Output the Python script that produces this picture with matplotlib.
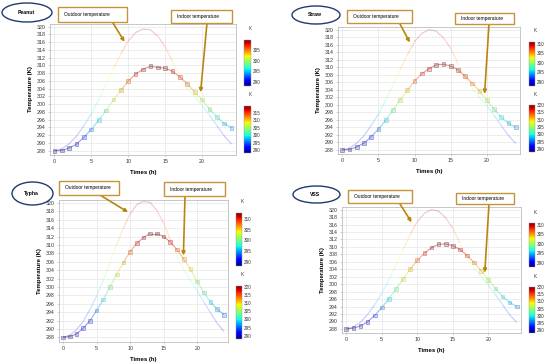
import matplotlib
matplotlib.use('Agg')
import matplotlib.pyplot as plt
from matplotlib.collections import LineCollection
from matplotlib.patches import Ellipse, Rectangle
from matplotlib.colors import Normalize
from matplotlib.cm import ScalarMappable
from matplotlib.ticker import MultipleLocator
import numpy as np

plt.rcParams['font.family'] = ['Liberation Sans', 'DejaVu Sans']

# ---------------- data ----------------
hours = list(range(25))
panel_names = ["Peanut", "Straw", "Typha", "VSS"]

outdoor_peanut = [288.0, 288.5, 289.8, 291.8, 294.5, 297.5, 301.2, 305.2, 309.2, 313.0, 316.3, 318.5, 319.4,
                  319.2, 317.6, 314.8, 311.0, 307.2, 304.2, 302.0, 299.8, 297.2, 294.5, 291.8, 289.7]
outdoor_straw = [288.0, 288.5, 289.8, 291.8, 294.5, 297.5, 301.2, 305.2, 309.3, 313.3, 316.8, 319.0, 320.0,
                 319.6, 317.8, 315.0, 311.0, 307.2, 304.2, 302.0, 299.8, 297.2, 294.5, 291.8, 289.7]
outdoor_typha = [288.0, 288.5, 289.8, 291.8, 294.6, 297.8, 301.6, 305.8, 310.0, 314.0, 317.4, 319.6, 320.4,
                 320.1, 318.2, 315.2, 311.2, 307.4, 304.2, 301.6, 299.0, 296.4, 293.8, 291.3, 289.4]
outdoor_vss = [288.0, 288.5, 289.8, 291.8, 294.5, 297.5, 301.2, 305.2, 309.3, 313.3, 316.8, 319.0, 320.0,
               319.6, 317.8, 315.0, 311.0, 307.2, 304.2, 302.0, 299.8, 297.2, 294.5, 291.8, 289.7]

indoor_peanut = [288.0, 288.1, 288.7, 289.7, 291.5, 293.5, 295.9, 298.4, 301.2, 303.6, 306.0, 307.8, 309.0,
                 309.8, 309.5, 309.3, 308.5, 307.0, 305.3, 303.1, 301.2, 298.7, 296.7, 295.0, 293.9]
indoor_straw = [288.0, 288.1, 288.8, 289.8, 291.5, 293.5, 295.9, 298.6, 301.3, 303.9, 306.3, 308.3, 309.6,
                310.6, 310.8, 310.3, 309.3, 307.6, 305.7, 303.6, 301.2, 298.8, 296.7, 295.1, 294.0]
indoor_typha = [288.0, 288.2, 288.8, 290.2, 291.9, 294.4, 297.0, 300.0, 303.0, 305.8, 308.4, 310.4, 311.8,
                312.7, 312.7, 312.0, 310.7, 308.9, 306.6, 304.2, 301.3, 298.7, 296.4, 294.7, 293.4]
indoor_vss = [288.0, 288.2, 288.8, 289.9, 291.6, 293.7, 296.1, 298.7, 301.4, 304.0, 306.4, 308.3, 309.8,
              310.7, 310.8, 310.3, 309.3, 307.7, 305.8, 303.6, 301.2, 298.8, 296.7, 295.1, 294.0]

outdoor_all = [outdoor_peanut, outdoor_straw, outdoor_typha, outdoor_vss]
indoor_all = [indoor_peanut, indoor_straw, indoor_typha, indoor_vss]

# arrow targets (data coords)
outdoor_arrow_pt = [(9.5, 316.1), (9.35, 316.6), (9.7, 317.8), (9.2, 316.6)]
indoor_arrow_pt = [(19.8, 303.1), (19.7, 302.9), (17.95, 307.5), (19.5, 303.1)]

# ---------------- layout (pixels, origin top-left) ----------------
W, H = 550, 363
axes_px = [(50, 24, 236, 155), (338, 27, 520, 154), (59, 200, 228, 342), (342, 207, 521, 333)]
cb_up_px = [(244, 40, 251, 86), (529, 42, 535, 86), (236, 213, 242, 266), (529, 223, 535, 267)]
cb_lo_px = [(244, 106, 251, 153), (529, 105, 535, 152), (236, 286, 242, 339), (529, 287, 535, 333)]
ell_px = [(27, 12.5, 50, 19), (316, 15, 48, 18), (32.5, 193.5, 41, 23), (316.5, 194.5, 47, 17)]
obox_px = [(58, 7, 127, 22), (347, 10, 412, 23), (59, 181, 119, 195), (348, 190, 412, 203)]
ibox_px = [(171, 10, 232, 23), (455, 13, 514, 24), (164, 182, 225, 196), (456, 193, 514, 204)]
oarrow_start = [(113, 23), (400, 24), (100, 195), (400, 204)]
iarrow_start = [(207, 23), (489, 24), (185, 196), (489, 204)]


def rect(x0, y0, x1, y1):
    return [x0 / W, 1 - y1 / H, (x1 - x0) / W, (y1 - y0) / H]


def fpt(x, y):
    return (x / W, 1 - y / H)


def muted(c, k):
    c = c.copy()
    c[:, :3] = c[:, :3] * (1 - k) + 0.55 * k
    return c


fig = plt.figure(figsize=(W / 100, H / 100), dpi=100)
cmap = plt.get_cmap('jet')
box_col = '#c4943a'
arrow_col = '#b8860b'
ell_col = '#1f3a6e'

for i in range(4):
    ax = fig.add_axes(rect(*axes_px[i]))
    t = np.array(hours, dtype=float)
    to = np.array(outdoor_all[i])
    ti = np.array(indoor_all[i])

    norm_o = Normalize(to.min(), to.max())
    norm_i = Normalize(ti.min(), ti.max())

    # outdoor line (pale)
    pts = np.column_stack([t, to]).reshape(-1, 1, 2)
    segs = np.concatenate([pts[:-1], pts[1:]], axis=1)
    cols = cmap(norm_o((to[:-1] + to[1:]) / 2))
    cols[:, 3] = 0.2
    ax.add_collection(LineCollection(segs, colors=cols, linewidths=0.9, zorder=2))

    # indoor line
    pts = np.column_stack([t, ti]).reshape(-1, 1, 2)
    segs = np.concatenate([pts[:-1], pts[1:]], axis=1)
    cols = muted(cmap(norm_i((ti[:-1] + ti[1:]) / 2)), 0.25)
    cols[:, 3] = 0.45
    ax.add_collection(LineCollection(segs, colors=cols, linewidths=0.8, zorder=3))
    mc = muted(cmap(norm_i(ti)), 0.35)
    fc = mc.copy(); fc[:, 3] = 0.25
    ec = mc.copy(); ec[:, 3] = 0.55
    ax.scatter(t, ti, marker='s', s=7, facecolors=fc, edgecolors=ec, linewidths=0.5, zorder=4)

    ax.set_xlim(-0.6, 24.6)
    ax.set_ylim(286.9, 320.7)
    ax.set_xticks([0, 5, 10, 15, 20])
    ax.set_yticks(np.arange(288, 321, 2))
    ax.grid(True, color='#e6e6e6', linewidth=0.5)
    ax.set_axisbelow(True)
    for s in ax.spines.values():
        s.set_color('#b0b0b0')
        s.set_linewidth(0.5)
    ax.tick_params(labelsize=3.8, length=1.5, width=0.4, colors='#b0b0b0', labelcolor='#333333', pad=1.5)
    ax.set_xlabel('Times (h)', fontsize=4.3, fontweight='bold', labelpad=4)
    ax.set_ylabel('Temperature (K)', fontsize=4.3, fontweight='bold', labelpad=3)

    # colorbars
    for cbr, nrm in ((cb_up_px[i], norm_i), (cb_lo_px[i], norm_o)):
        cax = fig.add_axes(rect(*cbr))
        cb = fig.colorbar(ScalarMappable(norm=nrm, cmap=cmap), cax=cax)
        cb.locator = MultipleLocator(5)
        cb.update_ticks()
        cb.outline.set_linewidth(0.3)
        cb.outline.set_edgecolor('#999999')
        cax.tick_params(labelsize=3.3, length=0, pad=1.5, labelcolor='#333333')
        xk = (cbr[0] + cbr[2]) / 2 + 3
        fig.text(*fpt(xk, cbr[1] - 11), 'K', fontsize=3.3, ha='center', va='center', color='#333333')

    # ellipse label
    cx, cy, ew, eh = ell_px[i]
    e = Ellipse(fpt(cx, cy), ew / W, eh / H, transform=fig.transFigure, facecolor='white',
                edgecolor=ell_col, linewidth=1.0)
    fig.add_artist(e)
    fig.text(*fpt(cx - 1, cy), panel_names[i], fontsize=3.7, fontweight='bold', ha='center', va='center')

    # annotation boxes
    for bx, label in ((obox_px[i], 'Outdoor temperature'), (ibox_px[i], 'Indoor temperature')):
        x0, y0, x1, y1 = bx
        r = Rectangle(fpt(x0, y1), (x1 - x0) / W, (y1 - y0) / H, transform=fig.transFigure,
                      facecolor='white', edgecolor=box_col, linewidth=1.0, zorder=5)
        fig.add_artist(r)
        fig.text(*fpt(x0 + 6, (y0 + y1) / 2), label, fontsize=3.5, ha='left', va='center', zorder=6)

    # arrows
    for start, tgt in ((oarrow_start[i], outdoor_arrow_pt[i]), (iarrow_start[i], indoor_arrow_pt[i])):
        ax.annotate('', xy=tgt, xycoords='data', xytext=fpt(*start), textcoords='figure fraction',
                    arrowprops=dict(arrowstyle='-|>', color=arrow_col, lw=1.2, mutation_scale=5,
                                    shrinkA=0, shrinkB=0), annotation_clip=False, zorder=7)

fig.savefig('out.png', dpi=100)
